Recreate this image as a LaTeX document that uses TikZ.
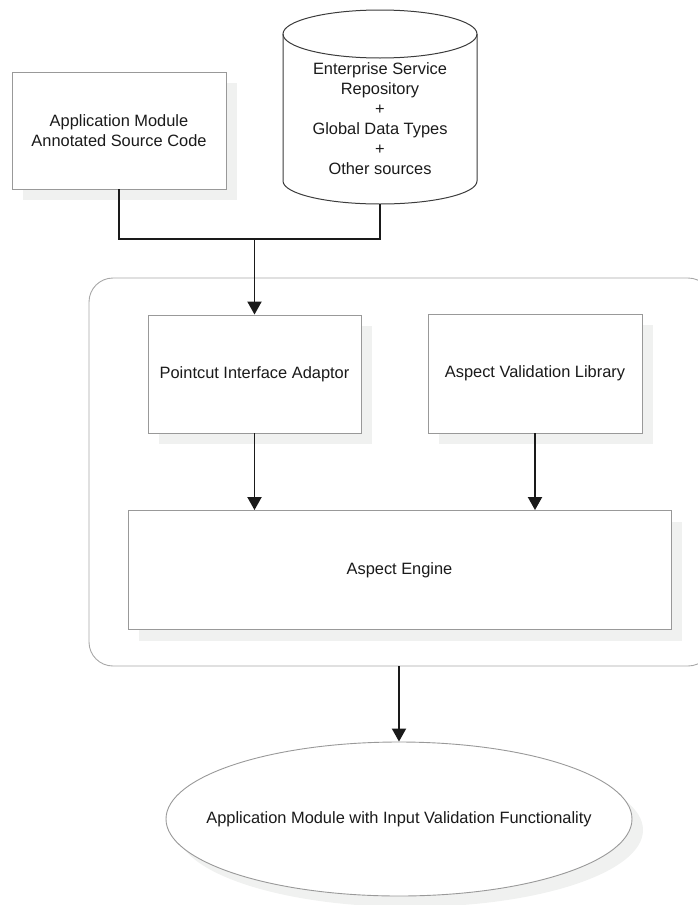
\documentclass[tikz,border=0pt]{standalone}
\usepackage{fontspec}
\setmainfont{Liberation Sans}
\usetikzlibrary{arrows.meta,shadows,shapes.geometric}
\definecolor{boxline}{HTML}{999999}
\definecolor{frameline}{HTML}{A8A8A8}
\definecolor{shade}{HTML}{F0F1F0}
\definecolor{ink}{HTML}{1A1A1A}
\begin{document}
\begin{tikzpicture}[x=1pt,y=1pt,
  every node/.style={font=\fontsize{16.4}{20}\selectfont, text=ink, align=center, inner sep=0pt},
  plainbox/.style={draw=boxline, line width=0.9pt, fill=white, rectangle,
    drop shadow={shadow xshift=11pt, shadow yshift=-11pt, fill=shade, opacity=1}},
  conn/.style={draw=ink, line width=1.9pt},
  arr/.style={conn, -{Triangle[width=14pt,length=13pt]}}
]
\useasboundingbox (0,0) rectangle (698,-905);

% outer frame
\node[draw=frameline, line width=0.9pt, rounded corners=24pt,
      minimum width=623pt, minimum height=388pt] (frame) at (400.5,-472) {};

% source box
\node[plainbox, minimum width=214pt, minimum height=117pt] (app) at (119,-130.5)
  {Application Module\\Annotated Source Code};

% repository cylinder
\draw[draw=ink!85, line width=1pt] (380,-34) ellipse [x radius=97pt, y radius=24pt];
\draw[draw=ink!85, line width=1pt] (283,-34) -- (283,-181)
  arc[start angle=180, end angle=360, x radius=97pt, y radius=23pt] -- (477,-34);
\node (repo) at (380,-118.5)
  {Enterprise Service\\Repository\\+\\Global Data Types\\+\\Other sources};
\coordinate (repobot) at (380,-204);

% inner boxes
\node[plainbox, minimum width=213pt, minimum height=118pt] (pia) at (254.5,-374)
  {Pointcut Interface Adaptor};
\node[plainbox, minimum width=214pt, minimum height=119pt] (avl) at (535,-373.5)
  {Aspect Validation Library};
\node[plainbox, minimum width=543pt, minimum height=119pt] (engine) at (399.5,-570)
  {Aspect Engine};

% result ellipse
\node[ellipse, draw=boxline, line width=0.9pt, fill=white,
      minimum width=466pt, minimum height=154pt,
      drop shadow={shadow xshift=11pt, shadow yshift=-11pt, fill=shade, opacity=1}]
  (out) at (399,-819)
  {\makebox[0pt]{Application Module with Input Validation Functionality}};

% connectors
\coordinate (join) at (254.5,-239);
\draw[conn] (app.south) -- (app.south |- join) -| (repobot);
\draw[arr] (join) -- (pia.north);
\draw[arr] (pia.south) -- (pia.south |- engine.north);
\draw[arr] (avl.south) -- (avl.south |- engine.north);
\draw[arr] (frame.south -| out.north) -- (out.north);
\end{tikzpicture}
\end{document}
